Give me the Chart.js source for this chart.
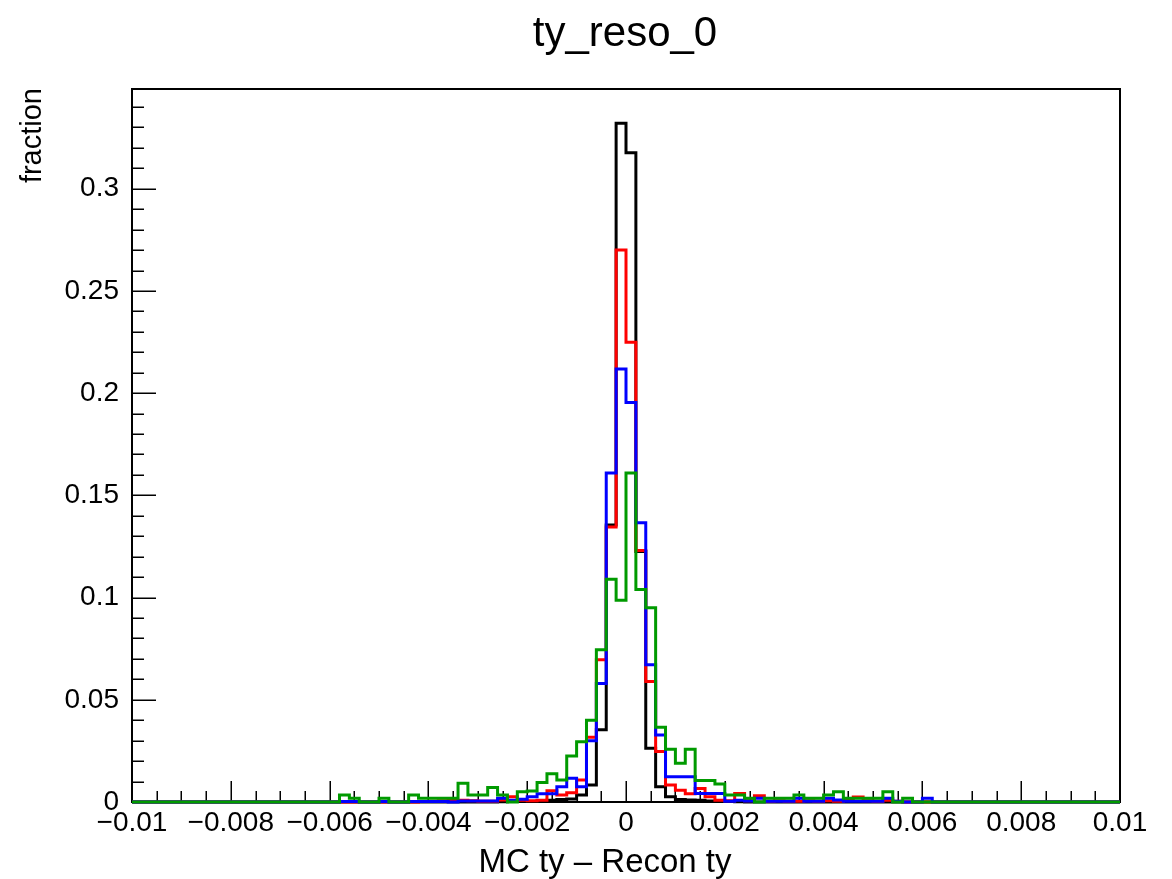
<!DOCTYPE html>
<html>
<head>
<meta charset="utf-8">
<script src="https://cdn.jsdelivr.net/npm/chart.js@4.4.1/dist/chart.umd.min.js"></script>
<style>html,body{margin:0;padding:0;background:#fff}canvas{display:block}</style>
</head>
<body>
<canvas id="c" width="1172" height="879"></canvas>
<script>
// ---- texts ----
const titleText = "ty_reso_0";
const xTitleText = "MC ty – Recon ty";
const yTitleText = "fraction";

// ---- axis ----
const xMin = -0.01, xMax = 0.01, yMin = 0, yMax = 0.3488;
const xMajorTicks = [-0.01, -0.008, -0.006, -0.004, -0.002, 0, 0.002, 0.004, 0.006, 0.008, 0.01];
const xTickLabels = ["\u22120.01", "\u22120.008", "\u22120.006", "\u22120.004", "\u22120.002", "0", "0.002", "0.004", "0.006", "0.008", "0.01"];
const yMajorTicks = [0, 0.05, 0.1, 0.15, 0.2, 0.25, 0.3];
const yTickLabels = ["0", "0.05", "0.1", "0.15", "0.2", "0.25", "0.3"];

// ---- bins: lower edges of 100 bins, width 0.0002 ----
const binLow = Array.from({length: 100}, (_, i) => +(xMin + i * 0.0002).toFixed(4));

// ---- series values (fraction per bin) ----
const blackValues = [
  0,0,0,0,0,0,0,0,0,0,
  0,0,0,0,0,0,0,0,0,0,
  0,0,0,0,0,0,0,0,0,0,
  0,0,0,0,0,0,0,0.0001,0.0002,0.0002,
  0.0003,0.0005,0.0008,0.0012,0.0015,0.0034,0.0083,0.0353,0.1355,0.332,
  0.3176,0.1225,0.0263,0.0075,0.0026,0.0012,0.001,0.0008,0.0005,0.0003,
  0.0002,0.0001,0,0,0,0,0,0,0,0,
  0,0,0,0,0,0,0,0,0,0,
  0,0,0,0,0,0,0,0,0,0,
  0,0,0,0,0,0,0,0,0,0
];
const redValues = [
  0,0,0,0,0,0,0,0,0,0,
  0,0,0,0,0,0,0,0,0,0,
  0,0,0,0,0,0,0,0,0,0.0002,
  0.0004,0.0006,0.0008,0.0008,0.0006,0.0004,0.0004,0.001,0.0026,0.0008,
  0.0006,0.0008,0.0055,0.0034,0.0045,0.0108,0.0317,0.0696,0.1345,0.270,
  0.2249,0.123,0.059,0.0247,0.0083,0.0058,0.004,0.0066,0.0026,0.0008,
  0.0006,0.0042,0.0006,0.003,0.0004,0.0006,0.0004,0.0004,0.0006,0.0004,
  0.0006,0.0004,0.001,0.0025,0.0006,0.0004,0.0008,0.0004,0,0,
  0,0,0,0,0,0,0,0,0,0,
  0,0,0,0,0,0,0,0,0,0
];
const blueValues = [
  0,0,0,0,0,0,0,0,0,0,
  0,0,0,0,0,0,0,0,0,0,
  0,0.0003,0.0003,0,0,0.0003,0,0,0.0003,0.0003,
  0.0003,0.0003,0,0.0005,0.0005,0.0005,0.0005,0.0018,0.0008,0.0013,
  0.0026,0.004,0.004,0.0075,0.0116,0.0075,0.030,0.058,0.161,0.2118,
  0.1954,0.1366,0.0672,0.0328,0.0124,0.0124,0.0124,0.0042,0.0042,0.0042,
  0.0004,0.0008,0.0005,0.0018,0.0004,0.0004,0.0004,0.0018,0.0004,0.0004,
  0.0018,0.001,0.0004,0.0004,0.0004,0.0004,0.0018,0.0004,0,0,
  0.0018,0,0,0,0,0,0,0,0,0,
  0,0,0,0,0,0,0,0,0,0
];
const greenValues = [
  0,0,0,0,0,0,0,0,0,0,
  0,0,0,0,0,0,0,0,0,0,
  0,0.0034,0.0018,0,0,0.0018,0,0,0.0034,0.0018,
  0.0018,0.0018,0.0018,0.0092,0.0034,0.0034,0.0071,0.0034,0,0.005,
  0.0054,0.0095,0.0138,0.0108,0.0225,0.0295,0.040,0.0745,0.109,0.0987,
  0.161,0.104,0.095,0.0366,0.0258,0.019,0.0258,0.0105,0.0105,0.0088,
  0.0034,0.0034,0.0018,0,0.0018,0.0018,0.0018,0.0034,0.0018,0.0018,
  0.0034,0.005,0.0018,0.0018,0.0018,0.0018,0.005,0,0.0018,0,
  0,0,0,0,0,0,0,0,0,0,
  0,0,0,0,0,0,0,0,0,0
];

function toSteps(vals) {
  const pts = binLow.map((x, i) => ({x: x, y: vals[i]}));
  pts.push({x: xMax, y: vals[vals.length - 1]});
  return pts;
}

const FONT = "'Liberation Sans', Arial, Helvetica, sans-serif";

function histDataset(label, vals, color, order) {
  return {
    label: label, data: toSteps(vals), borderColor: color, backgroundColor: color,
    borderWidth: 3, pointRadius: 0, stepped: 'before', fill: false, tension: 0,
    clip: false, order: order
  };
}

const decor = {
  id: 'decor',
  beforeDatasetsDraw(chart) {
    const {ctx, chartArea: a, scales: {x, y}} = chart;
    ctx.save();
    ctx.strokeStyle = '#000';
    ctx.lineWidth = 1.5;
    ctx.beginPath();
    for (let i = 0; i <= 40; i++) {
      const v = xMin + i * 0.0005;
      const px = Math.round(x.getPixelForValue(v)) + 0.25;
      const len = (i % 4 === 0) ? 21 : 11;
      ctx.moveTo(px, a.bottom);
      ctx.lineTo(px, a.bottom - len);
    }
    for (let i = 0; i <= 34; i++) {
      const v = i * 0.01;
      const py = Math.round(y.getPixelForValue(v)) + 0.25;
      const len = (i % 5 === 0) ? 24 : 12;
      ctx.moveTo(a.left, py);
      ctx.lineTo(a.left + len, py);
    }
    ctx.stroke();
    ctx.lineWidth = 2;
    ctx.strokeRect(a.left, a.top, a.right - a.left, a.bottom - a.top);
    ctx.restore();
  },
  afterDraw(chart) {
    const {ctx} = chart;
    ctx.save();
    ctx.fillStyle = '#000';
    ctx.textBaseline = 'alphabetic';
    ctx.font = "42px " + FONT;
    ctx.textAlign = 'center';
    ctx.fillText(titleText, 625, 46);
    ctx.font = "33px " + FONT;
    ctx.fillText(xTitleText, 605, 872);
    ctx.translate(41, 88);
    ctx.rotate(-Math.PI / 2);
    ctx.textAlign = 'right';
    ctx.font = "29px " + FONT;
    ctx.fillText(yTitleText, 0, 0);
    ctx.restore();
  }
};

new Chart(document.getElementById('c'), {
  type: 'line',
  data: {
    datasets: [
      histDataset('black', blackValues, '#000000', 4),
      histDataset('red', redValues, '#ff0000', 3),
      histDataset('blue', blueValues, '#0000ff', 2),
      histDataset('green', greenValues, '#009a00', 1)
    ]
  },
  options: {
    responsive: false,
    devicePixelRatio: 1,
    animation: false,
    layout: {padding: {top: 89, right: 52, left: 0, bottom: 0}},
    plugins: {legend: {display: false}, tooltip: {enabled: false}, title: {display: false}},
    scales: {
      x: {
        type: 'linear', min: xMin, max: xMax,
        grid: {display: false, drawTicks: false},
        border: {display: false},
        afterBuildTicks: s => { s.ticks = xMajorTicks.map(v => ({value: v})); },
        afterFit: s => { s.height = 77; },
        ticks: {
          autoSkip: false, maxRotation: 0, minRotation: 0, padding: 4, color: '#000',
          font: {family: FONT, size: 28},
          callback: (v, i) => xTickLabels[i]
        }
      },
      y: {
        type: 'linear', min: yMin, max: yMax,
        grid: {display: false, drawTicks: false},
        border: {display: false},
        afterBuildTicks: s => { s.ticks = yMajorTicks.map(v => ({value: v})); },
        afterFit: s => { s.width = 132; },
        ticks: {
          autoSkip: false, padding: 13, color: '#000',
          font: {family: FONT, size: 28},
          callback: (v, i) => yTickLabels[i]
        }
      }
    }
  },
  plugins: [decor]
});
</script>
</body>
</html>
